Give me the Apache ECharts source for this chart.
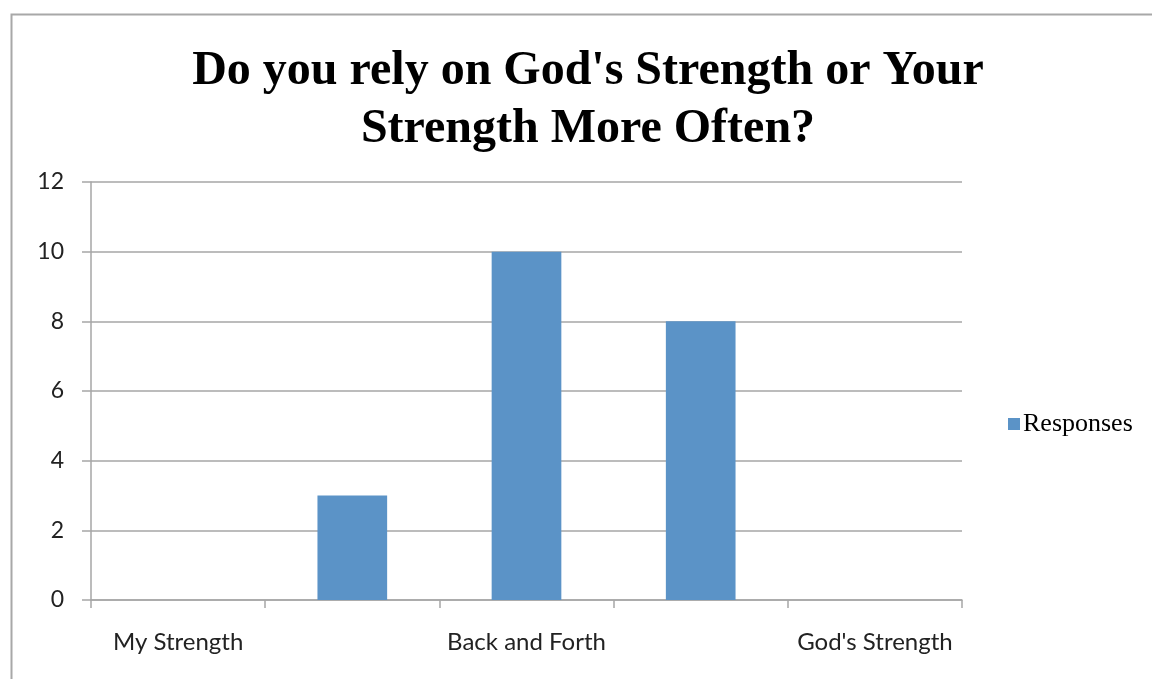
<!DOCTYPE html>
<html><head><meta charset="utf-8">
<script src="https://cdn.jsdelivr.net/npm/echarts@6/dist/echarts.min.js"></script>
<style>html,body{margin:0;padding:0;background:#fff;}#c{width:1152px;height:679px;}</style>
</head><body><div id="c"></div>
<script>
var categories = ["My Strength", "", "Back and Forth", "", "God's Strength"];
var responses = [0, 3, 10, 8, 0];
var seriesName = "Responses";
var titleText = "Do you rely on God's Strength or Your\nStrength More Often?";

var chart = echarts.init(document.getElementById('c'));
chart.setOption({
  animation: false,
  backgroundColor: '#fff',
  graphic: [{
    type: 'rect', left: 9, top: 12, shape: {width: 1200, height: 700},
    style: {fill: 'none', stroke: '#a8a8a8', lineWidth: 2}, silent: true
  }],
  title: {
    text: titleText, left: 583, top: 38, textAlign: 'center',
    textStyle: {fontFamily: 'Liberation Serif', fontWeight: 'bold', fontSize: 48, lineHeight: 58, color: '#000'}
  },
  legend: {
    data: [seriesName], left: 1003, top: 406, itemWidth: 12, itemHeight: 12, itemGap: 5,
    icon: 'rect',
    textStyle: {fontFamily: 'Liberation Serif', fontSize: 26, color: '#000', padding: [0,0,0,-2]}
  },
  grid: {left: 91, right: 190, top: 182, bottom: 79, containLabel: false},
  xAxis: {
    type: 'category', data: categories,
    axisLine: {lineStyle: {color: '#a6a6a6', width: 1.5}},
    axisTick: {show: true, length: 8, alignWithLabel: false, interval: 0, lineStyle: {color: '#a6a6a6', width: 1.5}},
    axisLabel: {interval: 0, margin: 30, fontFamily: 'Lato', fontSize: 24, color: '#222'}
  },
  yAxis: {
    type: 'value', min: 0, max: 12, interval: 2,
    axisLine: {show: true, lineStyle: {color: '#a6a6a6', width: 1.5}},
    axisTick: {show: true, length: 9, lineStyle: {color: '#a6a6a6', width: 1.5}},
    splitLine: {lineStyle: {color: '#a6a6a6', width: 1.5}},
    axisLabel: {margin: 27, fontFamily: 'Lato', fontSize: 23, color: '#222'}
  },
  series: [{
    name: seriesName, type: 'bar', data: responses, barWidth: '40%',
    itemStyle: {color: '#5b93c7'}
  }]
});
</script></body></html>
